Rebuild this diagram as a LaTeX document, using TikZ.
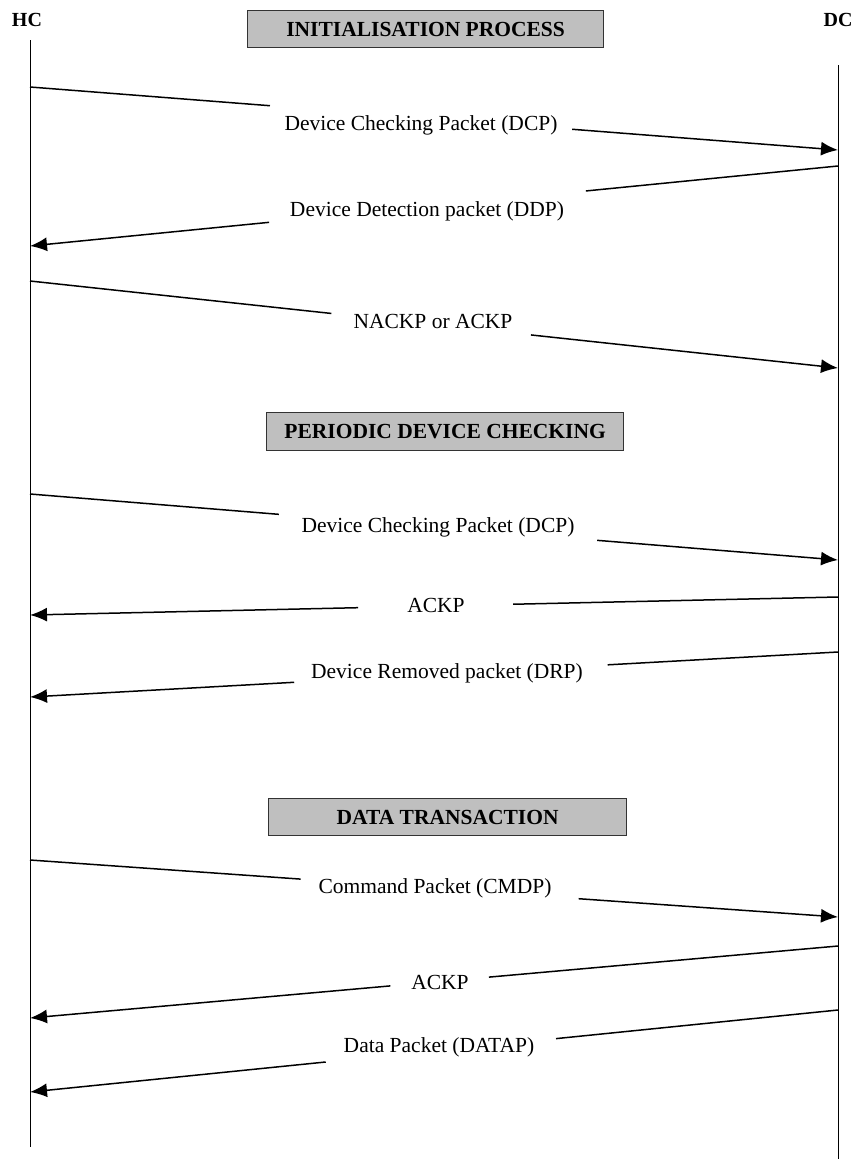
\documentclass[tikz,border=0pt]{standalone}
\usepackage{fontspec}
\setmainfont{Liberation Serif}
\usetikzlibrary{arrows.meta,calc}
\begin{document}
\begin{tikzpicture}[x=1pt,y=-1pt,
  lifeline/.style={line width=1pt},
  msgline/.style={line width=1.5pt},
  msgarrow/.style={line width=1.5pt,-{Latex[length=17pt,width=14pt]}},
  lbl/.style={font=\fontsize{21.5}{24}\selectfont,inner sep=0pt,anchor=center},
  titlebox/.style={draw=black!80,line width=1.3pt,fill=black!25,inner sep=0pt,anchor=north west,font=\bfseries\fontsize{21.5}{24}\selectfont},
  actor/.style={font=\bfseries\fontsize{20}{22}\selectfont,inner sep=0pt}
]
\path[use as bounding box,fill=white] (0,0) rectangle (860,1159);
% actors
\node[actor] (HC) at (27,20) {HC};
\node[actor] (DC) at (838,20) {DC};
\coordinate (hctop) at (30,40);
\coordinate (hcbot) at (30,1147);
\coordinate (dctop) at (838,65);
\coordinate (dcbot) at (838,1159);
\draw[lifeline] (hctop) -- (hcbot);
\draw[lifeline] (dctop) -- (dcbot);
% title boxes
\node[titlebox,minimum width=356pt,minimum height=37pt] (t1) at (247,10) {INITIALISATION PROCESS};
\node[titlebox,minimum width=357pt,minimum height=38pt] (t2) at (266,412) {PERIODIC DEVICE CHECKING};
\node[titlebox,minimum width=358pt,minimum height=37pt] (t3) at (268,798) {DATA TRANSACTION};
% message 1
\coordinate (s1) at (30,87); \coordinate (e1) at (838,150);
\draw[msgline] (s1) -- ($(s1)!0.297!(e1)$);
\draw[msgarrow] ($(s1)!0.671!(e1)$) -- (e1);
\node[lbl] (l1) at (421,125) {Device Checking Packet (DCP)};
% message 2
\coordinate (s2) at (838,166); \coordinate (e2) at (30,246);
\draw[msgline] (s2) -- ($(s2)!0.312!(e2)$);
\draw[msgarrow] ($(s2)!0.704!(e2)$) -- (e2);
\node[lbl] (l2) at (427,211) {Device Detection packet (DDP)};
% message 3
\coordinate (s3) at (30,281); \coordinate (e3) at (838,368);
\draw[msgline] (s3) -- ($(s3)!0.373!(e3)$);
\draw[msgarrow] ($(s3)!0.62!(e3)$) -- (e3);
\node[lbl] (l3) at (433,321) {NACKP or ACKP};
% message 4
\coordinate (s4) at (30,494); \coordinate (e4) at (838,560);
\draw[msgline] (s4) -- ($(s4)!0.308!(e4)$);
\draw[msgarrow] ($(s4)!0.702!(e4)$) -- (e4);
\node[lbl] (l4) at (438,527) {Device Checking Packet (DCP)};
% message 5
\coordinate (s5) at (838,597); \coordinate (e5) at (30,615);
\draw[msgline] (s5) -- ($(s5)!0.402!(e5)$);
\draw[msgarrow] ($(s5)!0.594!(e5)$) -- (e5);
\node[lbl] (l5) at (436,605) {ACKP};
% message 6
\coordinate (s6) at (838,652); \coordinate (e6) at (30,697);
\draw[msgline] (s6) -- ($(s6)!0.285!(e6)$);
\draw[msgarrow] ($(s6)!0.673!(e6)$) -- (e6);
\node[lbl] (l6) at (447,673) {Device Removed packet (DRP)};
% message 7
\coordinate (s7) at (30,860); \coordinate (e7) at (838,917);
\draw[msgline] (s7) -- ($(s7)!0.335!(e7)$);
\draw[msgarrow] ($(s7)!0.679!(e7)$) -- (e7);
\node[lbl] (l7) at (435,888) {Command Packet (CMDP)};
% message 8
\coordinate (s8) at (838,946); \coordinate (e8) at (30,1018);
\draw[msgline] (s8) -- ($(s8)!0.432!(e8)$);
\draw[msgarrow] ($(s8)!0.554!(e8)$) -- (e8);
\node[lbl] (l8) at (440,982) {ACKP};
% message 9
\coordinate (s9) at (838,1010); \coordinate (e9) at (30,1092);
\draw[msgline] (s9) -- ($(s9)!0.349!(e9)$);
\draw[msgarrow] ($(s9)!0.634!(e9)$) -- (e9);
\node[lbl] (l9) at (439,1047) {Data Packet (DATAP)};
\end{tikzpicture}
\end{document}
